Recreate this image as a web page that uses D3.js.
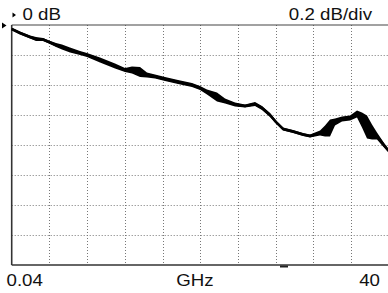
<!DOCTYPE html>
<html>
<head>
<meta charset="utf-8">
<script src="https://cdn.jsdelivr.net/npm/d3@7"></script>
<style>
  body { margin: 0; background: #fff; }
  svg { display: block; }
  text { font-family: "Liberation Sans", Arial, sans-serif; fill: #111; }
</style>
</head>
<body>
<svg id="chart" width="388" height="293"></svg>
<script>
// values
var freqGHz = [0.04, 0.92, 1.98, 2.62, 3.36, 3.99, 4.74, 5.37, 6.22, 7.28, 8.02, 9.40, 10.99, 12.05,
    12.79, 13.64, 14.38, 15.23, 16.29, 17.67, 19.15, 20.00, 20.74, 21.80, 22.65, 23.71, 24.77, 25.83,
    26.57, 27.42, 28.06, 28.80, 29.86, 30.92, 31.66, 32.72, 33.25, 33.78, 34.31, 35.05, 35.90, 36.64,
    37.17, 37.70, 38.23, 38.76, 39.40, 40.00]
var magDb = [-0.027, -0.053, -0.080, -0.093, -0.097, -0.113, -0.133, -0.147, -0.167, -0.187, -0.200, -0.233,
    -0.273, -0.300, -0.300, -0.313, -0.333, -0.343, -0.360, -0.380, -0.400, -0.420, -0.447, -0.480,
    -0.507, -0.530, -0.540, -0.527, -0.553, -0.600, -0.647, -0.693, -0.710, -0.730, -0.740, -0.720,
    -0.707, -0.687, -0.647, -0.627, -0.620, -0.593, -0.633, -0.680, -0.713, -0.740, -0.793, -0.840]
// half width of the noise band around the trace
var noiseDb = [0.008, 0.010, 0.010, 0.013, 0.010, 0.010, 0.013, 0.017, 0.017, 0.013, 0.013, 0.017,
    0.017, 0.013, 0.023, 0.033, 0.017, 0.013, 0.013, 0.013, 0.013, 0.013, 0.017, 0.030,
    0.017, 0.013, 0.010, 0.013, 0.013, 0.013, 0.010, 0.010, 0.010, 0.010, 0.010, 0.017,
    0.037, 0.057, 0.023, 0.017, 0.017, 0.023, 0.050, 0.077, 0.050, 0.023, 0.017, 0.010]

var refLabel = '0 dB'
var scaleLabel = '0.2 dB/div'
var startLabel = '0.04'
var unitLabel = 'GHz'
var stopLabel = '40'

var xDivs = 10
var yDivs = 8
var dbPerDiv = 0.2

const plot = { left: 11.7, top: 25, right: 388.7, bottom: 265 };

var svg = d3.select('#chart')

var xScale = d3.scaleLinear()
    .domain([freqGHz[0], freqGHz[freqGHz.length - 1]])
    .range([plot.left, plot.right])

var yScale = d3.scaleLinear()
    .domain([-dbPerDiv * yDivs, 0])
    .range([plot.bottom, plot.top])

var trace = freqGHz.map((f, i) => ({ f: f, db: magDb[i], n: noiseDb[i] }))

// dotted graticule
var fStep = (xScale.domain()[1] - xScale.domain()[0]) / xDivs
svg.append('g')
    .selectAll('line')
    .data(d3.range(1, xDivs))
    .join('line')
    .attr('x1', d => Math.round(xScale(xScale.domain()[0] + d * fStep)) + 0.5)
    .attr('x2', d => Math.round(xScale(xScale.domain()[0] + d * fStep)) + 0.5)
    .attr('y1', plot.top)
    .attr('y2', plot.bottom)
    .attr('stroke', '#777')
    .attr('stroke-width', 1)
    .attr('stroke-dasharray', '1,2')

svg.append('g')
    .selectAll('line')
    .data(d3.range(1, yDivs))
    .join('line')
    .attr('x1', plot.left)
    .attr('x2', plot.right)
    .attr('y1', d => Math.round(yScale(-d * dbPerDiv)) + 0.5)
    .attr('y2', d => Math.round(yScale(-d * dbPerDiv)) + 0.5)
    .attr('stroke', '#777')
    .attr('stroke-width', 1)
    .attr('stroke-dasharray', '1,2')

// frame: top, left, bottom
svg.append('line')
    .attr('x1', plot.left).attr('x2', plot.right)
    .attr('y1', plot.top).attr('y2', plot.top)
    .attr('stroke', '#444').attr('stroke-width', 1.2)
svg.append('line')
    .attr('x1', plot.left).attr('x2', plot.left)
    .attr('y1', plot.top).attr('y2', plot.bottom)
    .attr('stroke', '#333').attr('stroke-width', 1.6)
svg.append('line')
    .attr('x1', plot.left).attr('x2', plot.right)
    .attr('y1', plot.bottom).attr('y2', plot.bottom)
    .attr('stroke', '#333').attr('stroke-width', 1.6)

// noise band + trace
var band = d3.area()
    .x(d => xScale(d.f))
    .y0(d => yScale(d.db - d.n))
    .y1(d => yScale(d.db + d.n))

svg.append('path')
    .datum(trace)
    .attr('d', band)
    .attr('fill', '#000')

var line = d3.line()
    .x(d => xScale(d.f))
    .y(d => yScale(d.db))

svg.append('path')
    .datum(trace)
    .attr('d', line)
    .attr('fill', 'none')
    .attr('stroke', '#000')
    .attr('stroke-width', 2.6)
    .attr('stroke-linejoin', 'round')

// reference marker on the left and in front of the label
svg.append('path')
    .attr('d', 'M2,22.5 L6.5,25.5 L2,28.5 Z')
    .attr('fill', '#000')
svg.append('path')
    .attr('d', 'M12.5,12.5 L16,15 L12.5,17.5 Z')
    .attr('fill', '#000')

// small marker under the axis
svg.append('line')
    .attr('x1', 280).attr('x2', 288)
    .attr('y1', 266.5).attr('y2', 266.5)
    .attr('stroke', '#222').attr('stroke-width', 2)

function addLabel(txt, x, y, anchor) {
    svg.append('g')
        .attr('transform', 'translate(' + x + ',' + y + ') scale(1.1,1)')
        .append('text')
        .attr('text-anchor', anchor)
        .style('font-size', '17px')
        .text(txt)
}

addLabel(refLabel, 22.5, 20, 'start')
addLabel(scaleLabel, 372, 20, 'end')
addLabel(startLabel, 6.5, 285.5, 'start')
addLabel(unitLabel, 195, 286, 'middle')
addLabel(stopLabel, 380, 285.5, 'end')
</script>
</body>
</html>
